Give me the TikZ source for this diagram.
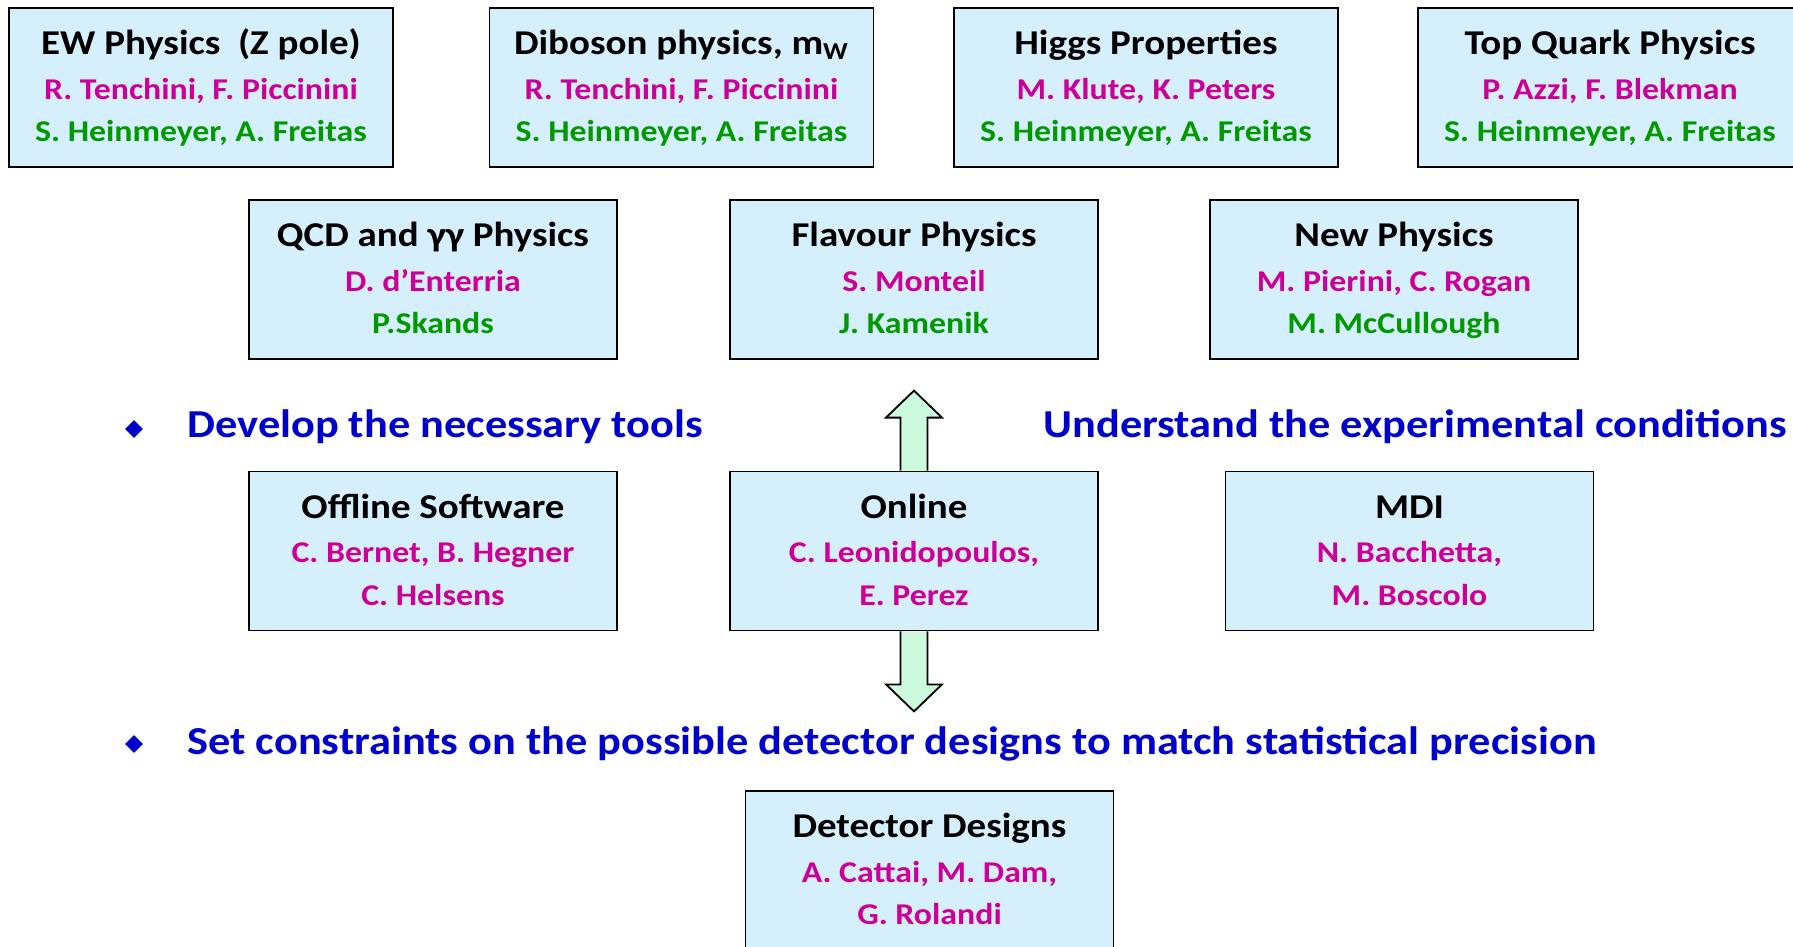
\documentclass[tikz,border=0pt]{standalone}
\usepackage{fontspec}
\setmainfont{Carlito}[FakeStretch=1.12]
\usetikzlibrary{shapes.geometric}

\definecolor{boxblue}{RGB}{213,239,252}
\definecolor{convmag}{RGB}{204,0,153}
\definecolor{theogrn}{RGB}{0,153,0}
\definecolor{bulblue}{RGB}{0,0,204}
\definecolor{arrgrn}{RGB}{204,250,220}

\newcommand{\wgtitle}[1]{{\fontsize{17.4}{19.5}\selectfont\rule[-5.85pt]{0pt}{22.3pt}#1}\\[2.7pt]}
\newcommand{\wgconv}[1]{\textcolor{convmag}{\strut #1}}
\newcommand{\wgtheo}[1]{\textcolor{theogrn}{\strut #1}}

\tikzset{
  wg/.style={draw, line width=0.9pt, fill=boxblue, minimum width=184pt,
    minimum height=79.5pt, align=center, inner sep=0pt,
    font=\bfseries\fontsize{15.1}{19.5}\selectfont},
  wgwide/.style={wg, minimum width=192pt},
  goal/.style={anchor=base west, text=bulblue, inner sep=0pt,
    font=\bfseries\fontsize{19.8}{24}\selectfont},
  bul/.style={diamond, fill=bulblue, minimum width=9pt, minimum height=9pt, inner sep=0pt},
  arrowbox/.style={draw, line width=0.9pt, fill=arrgrn, line join=miter}
}

\begin{document}
\begin{tikzpicture}[x=0.5pt, y=-0.5pt]
    \clip (0,0) rectangle (1793,947);

    % physics working groups
    \node[wgwide] (ew) at (201,87.5)
      {\wgtitle{EW Physics\ \ (Z pole)}\wgconv{R. Tenchini, F. Piccinini}\\[1.7pt] \wgtheo{S. Heinmeyer, A. Freitas}};
    \node[wgwide] (diboson) at (681.5,87.5)
      {\wgtitle{Diboson physics, m\textsubscript{W}}\wgconv{R. Tenchini, F. Piccinini}\\[1.7pt] \wgtheo{S. Heinmeyer, A. Freitas}};
    \node[wgwide] (higgs) at (1146,87.5)
      {\wgtitle{Higgs Properties}\wgconv{M. Klute, K. Peters}\\[1.7pt] \wgtheo{S. Heinmeyer, A. Freitas}};
    \node[wgwide] (top) at (1610,87.5)
      {\wgtitle{Top Quark Physics}\wgconv{P. Azzi, F. Blekman}\\[1.7pt] \wgtheo{S. Heinmeyer, A. Freitas}};

    \node[wg] (qcd) at (433,279.5)
      {\wgtitle{QCD and γγ Physics}\wgconv{D. d’Enterria}\\[1.7pt] \wgtheo{P.Skands}};
    \node[wg] (flavour) at (914,279.5)
      {\wgtitle{Flavour Physics}\wgconv{S. Monteil}\\[1.7pt] \wgtheo{J. Kamenik}};
    \node[wg] (newphys) at (1394,279.5)
      {\wgtitle{New Physics}\wgconv{M. Pierini, C. Rogan}\\[1.7pt] \wgtheo{M. McCullough}};

    % tools and conditions
    \node[bul] (b1) at (134,429) {};
    \node[goal] (tools) at (187,437) {Develop the necessary tools};
    \node[goal] (cond) at (1043,437) {Understand the experimental conditions};

    \node[wg] (offline) at (433,551)
      {\wgtitle{Offline Software}\wgconv{C. Bernet, B. Hegner}\\[1.7pt] \wgconv{C. Helsens}};
    \node[wg] (online) at (914,551)
      {\wgtitle{Online}\wgconv{C. Leonidopoulos,}\\[1.7pt] \wgconv{E. Perez}};
    \node[wg] (mdi) at (1409.5,551)
      {\wgtitle{MDI}\wgconv{N. Bacchetta,}\\[1.7pt] \wgconv{M. Boscolo}};

    \draw[arrowbox, shift={(online.north)}]
      (-13.5,0) -- (-13.5,-53) -- (-28,-53) -- (0,-80) -- (28,-53) -- (13.5,-53) -- (13.5,0);
    \draw[arrowbox, shift={(online.south)}]
      (-13.5,0) -- (-13.5,53) -- (-28,53) -- (0,80) -- (28,53) -- (13.5,53) -- (13.5,0);

    % detector designs
    \node[bul] (b2) at (134,744) {};
    \node[goal] (constr) at (187,754)
      {Set constraints on the possible detector designs to match statistical precision};

    \node[wg] (det) at (929.5,870.5)
      {\wgtitle{Detector Designs}\wgconv{A. Cattai, M. Dam,}\\[1.7pt] \wgconv{G. Rolandi}};
\end{tikzpicture}
\end{document}
